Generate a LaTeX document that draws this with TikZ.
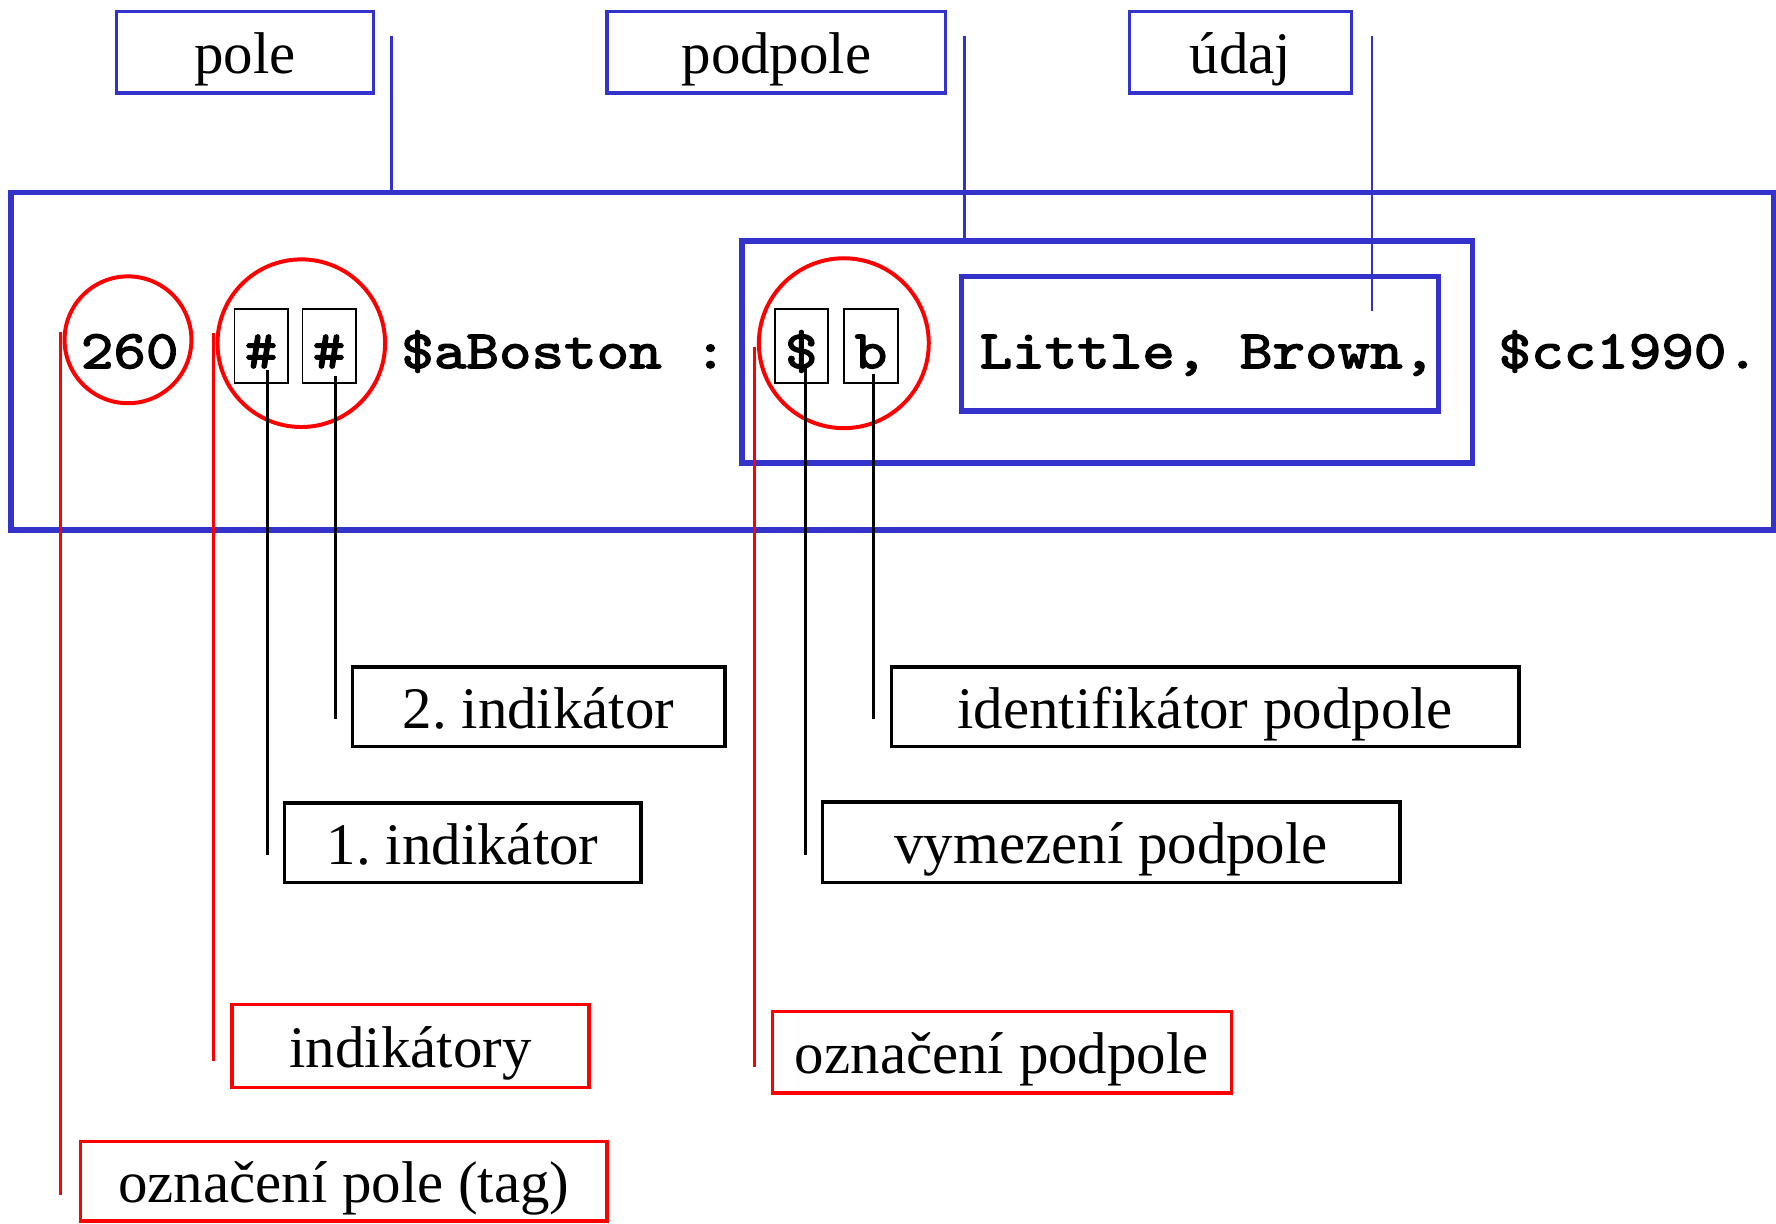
\documentclass[tikz,border=0pt]{standalone}
\usepackage{fontspec}
\setmainfont{Liberation Serif}
\newfontfamily\cour{lmmono10-regular.otf}[FakeBold=2.5, FakeStretch=1.14]
\usetikzlibrary{calc}
\frenchspacing
\definecolor{bl}{RGB}{51,51,204}
\definecolor{rd}{RGB}{255,0,0}
\tikzset{
  lbl/.style={draw, rectangle, inner sep=0pt, font=\fontsize{52}{60}\selectfont, text height=38pt, text depth=0pt},
  bluelbl/.style={lbl, draw=bl, line width=3pt},
  blacklbl/.style={lbl, draw=black, line width=3pt},
  redlbl/.style={lbl, draw=rd, line width=3pt},
  bigbox/.style={draw=bl, line width=5pt, rectangle, inner sep=0pt},
  mono/.style={font=\fontsize{48}{56}\selectfont\cour, inner sep=0pt},
  charbox/.style={mono, draw=black, line width=1.5pt, minimum width=47pt, minimum height=65pt, text height=39pt, text depth=0pt},
  redcirc/.style={draw=rd, line width=3.5pt, circle, inner sep=0pt},
  blueln/.style={draw=bl, line width=2.2pt},
  redln/.style={draw=rd, line width=2.5pt},
  blackln/.style={draw=black, line width=2.5pt},
}
\begin{document}
\begin{tikzpicture}[x=1pt,y=-1pt]
\useasboundingbox (0,0) rectangle (1568,1080);
% top labels
\node[bluelbl, minimum width=227pt, minimum height=72pt] (pole) at (216.5,46) {pole};
\node[bluelbl, minimum width=299pt, minimum height=72pt] (podpole) at (685.5,46) {podpole};
\node[bluelbl, minimum width=196pt, minimum height=72pt] (udaj) at (1095,46) {údaj};
% field boxes
\node[bigbox, minimum width=1556pt, minimum height=298pt] (outer) at (788,319) {};
\node[bigbox, minimum width=645pt, minimum height=196pt] (inner) at (977.5,311) {};
\node[bigbox, minimum width=421pt, minimum height=119pt] (udajbox) at (1059.5,303.5) {};
% circles
\node[redcirc, minimum size=112pt] (c260) at (113,300) {};
\node[redcirc, minimum size=148pt] (chash) at (266,303) {};
\node[redcirc, minimum size=150pt] (csub) at (745,303) {};
% field text
\node[mono, anchor=base] (t260) at (114.5,325) {260};
\node[charbox] (hashA) at (230.5,305.5) {\#};
\node[charbox] (hashB) at (290.5,305.5) {\#};
\node[mono, anchor=base] (boston) at (498,325) {\$aBoston :};
\node[charbox] (dol) at (707.5,305.5) {\$};
\node[charbox, minimum width=48pt] (bch) at (769,305.5) {b};
\node[mono, anchor=base] (little) at (1066,325) {Little, Brown,};
\node[mono, anchor=base] (cc) at (1438,325) {\$cc1990.};
% bottom labels
\node[blacklbl, minimum width=329pt, minimum height=70pt] (ind2) at (475.5,624) {2. indikátor};
\node[blacklbl, minimum width=315pt, minimum height=70pt] (ind1) at (408.5,744) {1. indikátor};
\node[blacklbl, minimum width=554pt, minimum height=70pt] (idpod) at (1064,624) {identifikátor podpole};
\node[blacklbl, minimum width=510pt, minimum height=71pt] (vymez) at (981,743.5) {vymezení podpole};
\node[redlbl, minimum width=315pt, minimum height=73pt] (indik) at (362.5,923.5) {indikátory};
\node[redlbl, minimum width=405pt, minimum height=72pt] (ozpod) at (884.5,929) {označení podpole};
\node[redlbl, minimum width=465pt, minimum height=70pt] (tag) at (303.5,1043) {označení pole (tag)};
% connector start points
\coordinate (pA) at ($(pole.north east)+(14,23)$);
\coordinate (pB) at ($(podpole.north east)+(15,23)$);
\coordinate (pC) at ($(udaj.north east)+(17,23)$);
\coordinate (pCe) at ($(pC |- udajbox.north)+(0,33)$);
% blue connectors
\draw[blueln] (pA) -- (pA |- outer.north);
\draw[blueln] (pB) -- (pB |- inner.north);
\draw[blueln] (pC) -- (pCe);
% red connectors
\draw[redln] ($(c260.west)+(-2,-7)$) -- ($(c260.west |- tag.center)+(-2,12)$);
\draw[redln] ($(chash.west)+(-2,-9)$) -- ($(chash.west |- indik.center)+(-2,13.5)$);
\draw[redln] ($(csub.west)+(-2,3)$) -- ($(csub.west |- ozpod.center)+(-2,13)$);
% black connectors
\draw[blackln] ($(hashA.center)+(5.5,21.5)$) -- ($(hashA.center |- ind1.center)+(5.5,11)$);
\draw[blackln] ($(hashB.center)+(5.5,26.5)$) -- ($(hashB.center |- ind2.center)+(5.5,11)$);
\draw[blackln] ($(dol.center)+(3.5,18.5)$) -- ($(dol.center |- vymez.center)+(3.5,11.5)$);
\draw[blackln] ($(bch.center)+(2,24.5)$) -- ($(bch.center |- idpod.center)+(2,11)$);
\end{tikzpicture}
\end{document}
